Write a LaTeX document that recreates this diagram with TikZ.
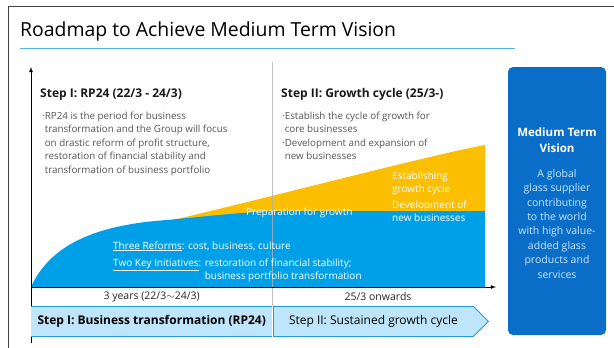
\documentclass[tikz,border=0pt]{standalone}
\usepackage{fontspec}
\setmainfont{Open Sans}
\usetikzlibrary{arrows, positioning, shapes.symbols}
\definecolor{skyarea}{RGB}{0,160,233}
\definecolor{goldarea}{RGB}{252,190,0}
\definecolor{visionblue}{RGB}{10,110,200}
\definecolor{barfill}{RGB}{190,229,250}
\definecolor{barline}{RGB}{30,155,225}
\definecolor{titleline}{RGB}{80,185,235}
\definecolor{bodygray}{RGB}{85,85,85}
\definecolor{visiontext}{RGB}{205,230,250}
\tikzstyle{heading} = [anchor=base west, inner sep=0pt, font=\fontsize{12}{15}\selectfont\bfseries, text=black!90]
\tikzstyle{bodytext} = [anchor=base west, inner sep=0pt, align=left, font=\fontsize{9.8}{13.4}\selectfont, text=bodygray]
\tikzstyle{areatext} = [anchor=base west, inner sep=0pt, align=left, font=\fontsize{10}{13}\selectfont, text=white]
\tikzstyle{period} = [inner sep=0pt, font=\fontsize{10.5}{12}\selectfont, text=black!85]
\tikzstyle{phase} = [minimum height=30pt, inner sep=0pt, fill=barfill, font=\fontsize{12}{14}\selectfont]
\tikzstyle{axis} = [thick, ->, >=latex]
\begin{document}
\begin{tikzpicture}[x=1pt, y=-1pt]
	\useasboundingbox (0,0) rectangle (614,348);

	% Frame and title - - - - - - - - - - - - - - - - - - - - - - - - - - - - - -
	\draw[black!75, line width=0.8pt] (614,6) -- (8,6) -- (8,348);
	\node(title) [anchor=base west, inner sep=0pt, font=\fontsize{19.4}{22}\selectfont] at (20,36)
		{Roadmap to Achieve Medium Term Vision};
	\draw[titleline, line width=1pt] (20,48) -- (515,48);

	% Growth areas - - - - - - - - - - - - - - - - - - - - - - - - - - - - - - -
	%Yellow growth cycle
	\fill[goldarea] (160,223) .. controls (260,200) and (430,155) .. (485,145)
		-- (485,287) -- (160,287) -- cycle;
	%Blue business transformation
	\fill[skyarea] (31,287) .. controls (50,245) and (95,225) .. (167,220)
		.. controls (210,216) and (250,211) .. (290,211) -- (485,211) -- (485,287) -- cycle;

	% Step divider
	\draw[black!30, line width=1pt, opacity=0.8] (272,62) -- (272,306);

	% Axes - - - - - - - - - - - - - - - - - - - - - - - - - - - - - - - - - - -
	\coordinate(origin) at (31,287);
	\coordinate(ytop) at (31,67);
	\coordinate(xend) at (496,287);
	\coordinate(ybottom) at (31,343);
	\draw[axis](ybottom)--(ytop);
	\draw[axis](origin)--(xend);

	% Step I texts - - - - - - - - - - - - - - - - - - - - - - - - - - - - - - -
	\node(stepone) [heading] at (40,97) {Step I: RP24 (22/3 - 24/3)};
	\node(steponetxt) [bodytext] at (42,173)
		{·RP24 is the period for business\\
		\phantom{·}transformation and the Group will focus\\
		\phantom{·}on drastic reform of profit structure,\\
		\phantom{·}restoration of financial stability and\\
		\phantom{·}transformation of business portfolio};

	% Step II texts - - - - - - - - - - - - - - - - - - - - - - - - - - - - - - -
	\node(steptwo) [heading] at (281,97) {Step II: Growth cycle (25/3-)};
	\node(steptwotxt) [bodytext] at (282,159.5)
		{·Establish the cycle of growth for\\
		\phantom{·}core businesses\\
		·Development and expansion of\\
		\phantom{·}new businesses};

	% Area labels - - - - - - - - - - - - - - - - - - - - - - - - - - - - - - - -
	\node(prep) [areatext] at (246,215) {Preparation for growth};
	\node(estab) [areatext] at (392,192) {Establishing\\growth cycle};
	\node(devel) [areatext] at (392,221) {Development of\\new businesses};
	\node(reforms) [areatext] at (113,249) {\underline{Three Reforms}: cost, business, culture};
	\node(initiatives) [areatext] at (113,279)
		{\underline{Two Key Initiatives}: restoration of financial stability;\\
		\phantom{Two Key Initiatives: }business portfolio transformation};

	% Phase bars - - - - - - - - - - - - - - - - - - - - - - - - - - - - - - - -
	\node(barone) [phase, minimum width=241pt, anchor=north west, font=\fontsize{12}{14}\selectfont\bfseries] at (31,306)
		{Step I: Business transformation (RP24)};
	\node(bartwo) [phase, signal, signal to=east, signal pointer angle=90, draw=barline, thick,
		minimum width=215pt, anchor=north west] at (273,306)
		{Step II: Sustained growth cycle};
	\draw[barline, thick](barone.north west)--(barone.north east);
	\draw[barline, thick](barone.south west)--(barone.south east);
	\node(yearsone) [period, above=4pt of barone] {3 years (22/3$\sim$24/3)};
	\node(yearstwo) [period] at (yearsone -| 378,0) {25/3 onwards};

	% Medium term vision - - - - - - - - - - - - - - - - - - - - - - - - - - - -
	\node(vision) [rectangle, rounded corners=5pt, fill=visionblue, minimum width=98pt,
		minimum height=268pt, inner sep=0pt] at (557,201) {};
	\node(visionhead) [anchor=base, inner sep=0pt, align=center, text=white,
		font=\fontsize{11.5}{16}\selectfont\bfseries] at (557,152) {Medium Term\\Vision};
	\node(visiontxt) [anchor=base, inner sep=0pt, align=center, text=visiontext,
		font=\fontsize{10.5}{14.4}\selectfont] at (557,278)
		{A global\\glass supplier\\contributing\\to the world\\with high value-\\added glass\\products and\\services};
\end{tikzpicture}
\end{document}
